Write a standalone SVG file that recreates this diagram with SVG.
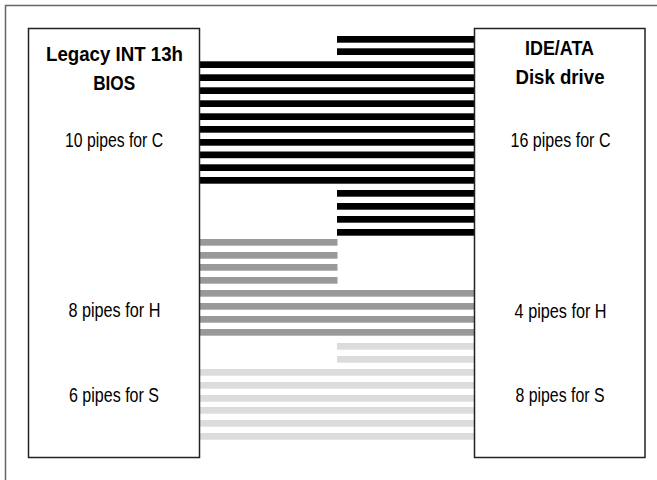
<svg xmlns="http://www.w3.org/2000/svg" width="657" height="480" viewBox="0 0 657 480">
<style>
.frame{fill:none;stroke:#666;stroke-width:1.5}
.box{fill:#fff;stroke:#222;stroke-width:1.5}
.t{font-family:"Liberation Sans",Arial,sans-serif;font-size:19.5px;fill:#000;text-anchor:middle}
.b{font-weight:bold;font-size:20px}
.c{fill:#000}
.h{fill:#999}
.s{fill:#dcdcdc}
</style>
<rect class="frame" x="5.5" y="5.5" width="700" height="520"/>
<g id="connectors">
<g class="c">
<rect x="337" y="36" width="137" height="6.7"/>
<rect x="337" y="48.3" width="137" height="6.7"/>
<rect x="199.5" y="61.3" width="274.5" height="6.7"/>
<rect x="199.5" y="74.3" width="274.5" height="6.7"/>
<rect x="199.5" y="87.3" width="274.5" height="6.7"/>
<rect x="199.5" y="100.3" width="274.5" height="6.7"/>
<rect x="199.5" y="113.3" width="274.5" height="6.7"/>
<rect x="199.5" y="126" width="274.5" height="6.7"/>
<rect x="199.5" y="139" width="274.5" height="6.7"/>
<rect x="199.5" y="151.5" width="274.5" height="6.7"/>
<rect x="199.5" y="164.3" width="274.5" height="6.7"/>
<rect x="199.5" y="177" width="274.5" height="6.7"/>
<rect x="337" y="190" width="137" height="6.7"/>
<rect x="337" y="203" width="137" height="6.7"/>
<rect x="337" y="216" width="137" height="6.7"/>
<rect x="337" y="229" width="137" height="6.7"/>
</g>
<g class="h">
<rect x="199.5" y="239" width="138" height="6.7"/>
<rect x="199.5" y="252" width="138" height="6.7"/>
<rect x="199.5" y="264" width="138" height="6.7"/>
<rect x="199.5" y="277" width="138" height="6.7"/>
<rect x="199.5" y="290" width="274.5" height="6.7"/>
<rect x="199.5" y="303" width="274.5" height="6.7"/>
<rect x="199.5" y="316" width="274.5" height="6.7"/>
<rect x="199.5" y="329" width="274.5" height="6.7"/>
</g>
<g class="s">
<rect x="337" y="343" width="137" height="6.7"/>
<rect x="337" y="356" width="137" height="6.7"/>
<rect x="199.5" y="369" width="274.5" height="6.7"/>
<rect x="199.5" y="382" width="274.5" height="6.7"/>
<rect x="199.5" y="395" width="274.5" height="6.7"/>
<rect x="199.5" y="407" width="274.5" height="6.7"/>
<rect x="199.5" y="420" width="274.5" height="6.7"/>
<rect x="199.5" y="433" width="274.5" height="6.7"/>
</g>
</g>
<g id="bios">
<rect class="box" x="28.5" y="28.5" width="171" height="429"/>
<text class="t b" x="114.5" y="61" textLength="137" lengthAdjust="spacingAndGlyphs">Legacy INT 13h</text>
<text class="t b" x="114.2" y="90" textLength="42" lengthAdjust="spacingAndGlyphs">BIOS</text>
<text class="t" x="114" y="147" textLength="98" lengthAdjust="spacingAndGlyphs">10 pipes for C</text>
<text class="t" x="114.4" y="317" textLength="92" lengthAdjust="spacingAndGlyphs">8 pipes for H</text>
<text class="t" x="114" y="401.5" textLength="90" lengthAdjust="spacingAndGlyphs">6 pipes for S</text>
</g>
<g id="disk">
<rect class="box" x="474.5" y="28.5" width="170.5" height="429"/>
<text class="t b" x="559.5" y="55" textLength="69" lengthAdjust="spacingAndGlyphs">IDE/ATA</text>
<text class="t b" x="560" y="84" textLength="89" lengthAdjust="spacingAndGlyphs">Disk drive</text>
<text class="t" x="560.5" y="147" textLength="100" lengthAdjust="spacingAndGlyphs">16 pipes for C</text>
<text class="t" x="560.6" y="318" textLength="92" lengthAdjust="spacingAndGlyphs">4 pipes for H</text>
<text class="t" x="560" y="402" textLength="89" lengthAdjust="spacingAndGlyphs">8 pipes for S</text>
</g>
</svg>
